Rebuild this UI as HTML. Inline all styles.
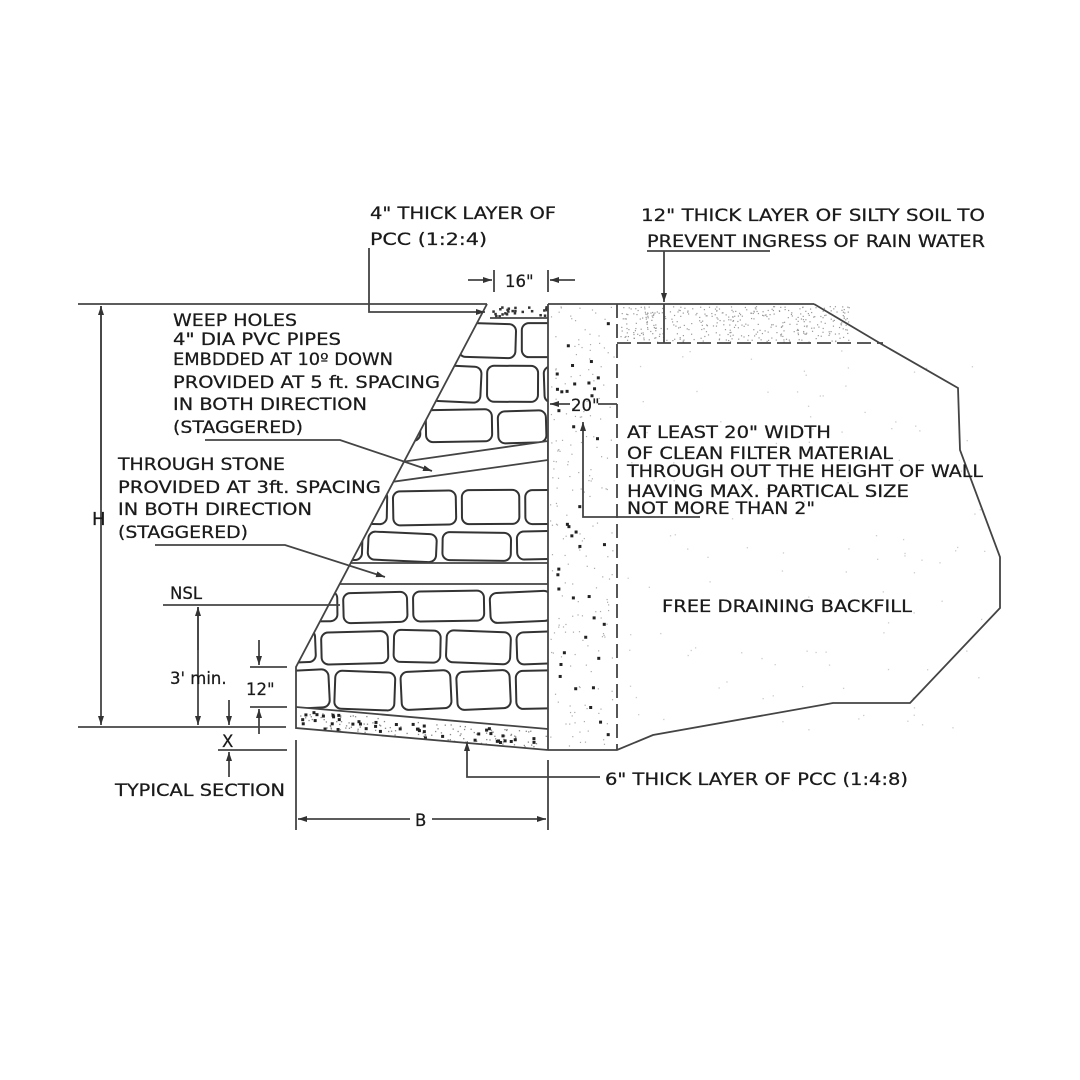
<!DOCTYPE html>
<html><head><meta charset="utf-8"><style>
html,body{margin:0;padding:0;background:#fff;}
svg{display:block}
text{font-family:"DejaVu Sans","Liberation Sans",sans-serif;font-size:16.5px;fill:#1a1a1a;stroke:#1a1a1a;stroke-width:0.25;}
</style></head><body>
<svg id="s" width="1080" height="1080" viewBox="0 0 1080 1080" xmlns="http://www.w3.org/2000/svg">
<defs>
<clipPath id="wall"><polygon points="487,304 548,304 548,729 296,707 296,667"/></clipPath>
<marker id="ar" markerWidth="10" markerHeight="8" refX="9" refY="4" orient="auto" markerUnits="userSpaceOnUse"><path d="M0,1 L9,4 L0,7 z" fill="#333"/></marker>
</defs>
<g id="stones" clip-path="url(#wall)" fill="none" stroke="#333" stroke-width="2"></g>
<g clip-path="url(#wall)" fill="#fff" stroke="#444" stroke-width="1.8">
<polygon points="250,563 548,563 548,584 250,584"/>
<polygon points="380,465 548,441 548,460 370,485"/>
</g>
<g id="dots"></g>
<g fill="none" stroke="#444" stroke-width="1.8">
<polyline points="487,304 296,667 296,728 548,750"/>
<line x1="296" y1="707" x2="548" y2="729"/>
<line x1="490" y1="318" x2="548" y2="318"/>
<line x1="548" y1="304" x2="548" y2="750"/>
<line x1="78" y1="304" x2="487" y2="304"/>
<line x1="548" y1="304" x2="814" y2="304"/>
<polyline points="814,304 883,345 958,388 960,450 1000,557 1000,608 910,703 833,703 653,735 617,750 548,750"/>
<line x1="617" y1="304" x2="617" y2="750" stroke-dasharray="14,6"/>
<line x1="617" y1="343" x2="883" y2="343" stroke-dasharray="14,6"/>
<line x1="101" y1="306" x2="101" y2="725" marker-end="url(#ar)"/>
<line x1="101" y1="500" x2="101" y2="306" marker-end="url(#ar)"/>
<line x1="78" y1="727" x2="286" y2="727"/>
<line x1="163" y1="605" x2="340" y2="605"/>
<line x1="198" y1="607" x2="198" y2="725" marker-end="url(#ar)"/>
<line x1="198" y1="650" x2="198" y2="607" marker-end="url(#ar)"/>
<line x1="250" y1="667" x2="287" y2="667"/>
<line x1="250" y1="707" x2="287" y2="707"/>
<line x1="259" y1="640" x2="259" y2="665" marker-end="url(#ar)"/>
<line x1="259" y1="734" x2="259" y2="709" marker-end="url(#ar)"/>
<line x1="218" y1="750" x2="287" y2="750"/>
<line x1="229" y1="700" x2="229" y2="725" marker-end="url(#ar)"/>
<line x1="229" y1="777" x2="229" y2="752" marker-end="url(#ar)"/>
<line x1="296" y1="740" x2="296" y2="830"/>
<line x1="548" y1="760" x2="548" y2="830"/>
<line x1="410" y1="819" x2="298" y2="819" marker-end="url(#ar)"/>
<line x1="432" y1="819" x2="546" y2="819" marker-end="url(#ar)"/>
<line x1="494" y1="270" x2="494" y2="292"/>
<line x1="548" y1="270" x2="548" y2="292"/>
<line x1="468" y1="280" x2="492" y2="280" marker-end="url(#ar)"/>
<line x1="575" y1="280" x2="550" y2="280" marker-end="url(#ar)"/>
<polyline points="369,248 369,312 485,312" marker-end="url(#ar)"/>
<line x1="647" y1="251" x2="770" y2="251"/>
<line x1="664" y1="251" x2="664" y2="302" marker-end="url(#ar)"/>
<line x1="664" y1="304" x2="664" y2="343"/>
<line x1="570" y1="404" x2="550" y2="404" marker-end="url(#ar)"/>
<line x1="598" y1="404" x2="617" y2="404"/>
<polyline points="700,517 583,517 583,422" marker-end="url(#ar)"/>
<polyline points="205,440 340,440 432,471" marker-end="url(#ar)"/>
<polyline points="155,545 285,545 385,577" marker-end="url(#ar)"/>
<polyline points="600,777 467,777 467,742" marker-end="url(#ar)"/>
</g>
<g>
<text x="370" y="219" textLength="186" lengthAdjust="spacingAndGlyphs">4" THICK LAYER OF</text>
<text x="370" y="245" textLength="117" lengthAdjust="spacingAndGlyphs">PCC (1:2:4)</text>
<text x="505" y="287">16"</text>
<text x="641" y="221" textLength="344" lengthAdjust="spacingAndGlyphs">12" THICK LAYER OF SILTY SOIL TO</text>
<text x="647" y="247" textLength="338" lengthAdjust="spacingAndGlyphs">PREVENT INGRESS OF RAIN WATER</text>
<text x="173" y="326" textLength="124" lengthAdjust="spacingAndGlyphs">WEEP HOLES</text>
<text x="173" y="345" textLength="168" lengthAdjust="spacingAndGlyphs">4" DIA PVC PIPES</text>
<text x="173" y="365" textLength="220" lengthAdjust="spacingAndGlyphs">EMBDDED AT 10º DOWN</text>
<text x="173" y="388" textLength="267" lengthAdjust="spacingAndGlyphs">PROVIDED AT 5 ft. SPACING</text>
<text x="173" y="410" textLength="194" lengthAdjust="spacingAndGlyphs">IN BOTH DIRECTION</text>
<text x="173" y="433" textLength="130" lengthAdjust="spacingAndGlyphs">(STAGGERED)</text>
<text x="118" y="470" textLength="167" lengthAdjust="spacingAndGlyphs">THROUGH STONE</text>
<text x="118" y="493" textLength="263" lengthAdjust="spacingAndGlyphs">PROVIDED AT 3ft. SPACING</text>
<text x="118" y="515" textLength="194" lengthAdjust="spacingAndGlyphs">IN BOTH DIRECTION</text>
<text x="118" y="538" textLength="130" lengthAdjust="spacingAndGlyphs">(STAGGERED)</text>
<text x="170" y="599">NSL</text>
<text x="92" y="525" style="font-size:18px">H</text>
<text x="170" y="684">3' min.</text>
<text x="246" y="695">12"</text>
<text x="222" y="747">X</text>
<text x="115" y="796" textLength="170" lengthAdjust="spacingAndGlyphs">TYPICAL SECTION</text>
<text x="415" y="826">B</text>
<text x="571" y="411">20"</text>
<text x="627" y="438" textLength="204" lengthAdjust="spacingAndGlyphs">AT LEAST 20" WIDTH</text>
<text x="627" y="459" textLength="266" lengthAdjust="spacingAndGlyphs">OF CLEAN FILTER MATERIAL</text>
<text x="627" y="477" textLength="356" lengthAdjust="spacingAndGlyphs">THROUGH OUT THE HEIGHT OF WALL</text>
<text x="627" y="497" textLength="282" lengthAdjust="spacingAndGlyphs">HAVING MAX. PARTICAL SIZE</text>
<text x="627" y="514" textLength="188" lengthAdjust="spacingAndGlyphs">NOT MORE THAN 2"</text>
<text x="662" y="612" textLength="250" lengthAdjust="spacingAndGlyphs">FREE DRAINING BACKFILL</text>
<text x="605" y="785" textLength="303" lengthAdjust="spacingAndGlyphs">6" THICK LAYER OF PCC (1:4:8)</text>
</g>
<script>
(function(){
var ns="http://www.w3.org/2000/svg";
var seed=7;function r(){seed=(seed*9301+49297)%233280;return seed/233280;}
var g=document.getElementById('stones');
var rows=[[320,40],[362,42],[406,38],[446,14],[486,40],[528,34],[588,36],[627,38],[667,44]];
rows.forEach(function(rw,i){
  var x=280+(i%2)*-28;
  while(x<560){
    var w=52+r()*26,h=rw[1]-6;
    if(h>8){
    var p=document.createElementNS(ns,'rect');
    p.setAttribute('x',x+2);p.setAttribute('y',rw[0]+3+r()*2);
    p.setAttribute('width',w-6);p.setAttribute('height',h);
    p.setAttribute('rx',7);
    p.setAttribute('transform','rotate('+((r()-0.5)*6)+' '+(x+w/2)+' '+(rw[0]+h/2)+')');
    g.appendChild(p);}
    x+=w;
  }
});
var d=document.getElementById('dots');
function dot(x,y,s,c){var e=document.createElementNS(ns,'rect');e.setAttribute('x',x);e.setAttribute('y',y);e.setAttribute('width',s);e.setAttribute('height',s);e.setAttribute('fill',c);d.appendChild(e);}
for(var i=0;i<200;i++){dot(550+r()*64,306+r()*440,1.2,'#aaa');}
for(var i=0;i<40;i++){dot(552+r()*56,320+r()*420,3,'#222');}
for(var i=0;i<400;i++){dot(620+r()*230,306+r()*36,1.2,'#999');}
for(var i=0;i<120;i++){var t=r();var x=300+t*246;var y0=708+t*22;dot(x,y0+2+r()*17,1.3,'#888');}
for(var i=0;i<45;i++){var t=r();var x=300+t*246;var y0=708+t*22;dot(x,y0+2+r()*16,3,'#222');}
for(var i=0;i<25;i++){dot(492+r()*54,306+r()*10,2.5,'#333');}
for(var i=0;i<120;i++){var x=625+r()*360,y=350+r()*380;dot(x,y,1.3,'#ccc');}
})();
</script>
</svg>
</body></html>
